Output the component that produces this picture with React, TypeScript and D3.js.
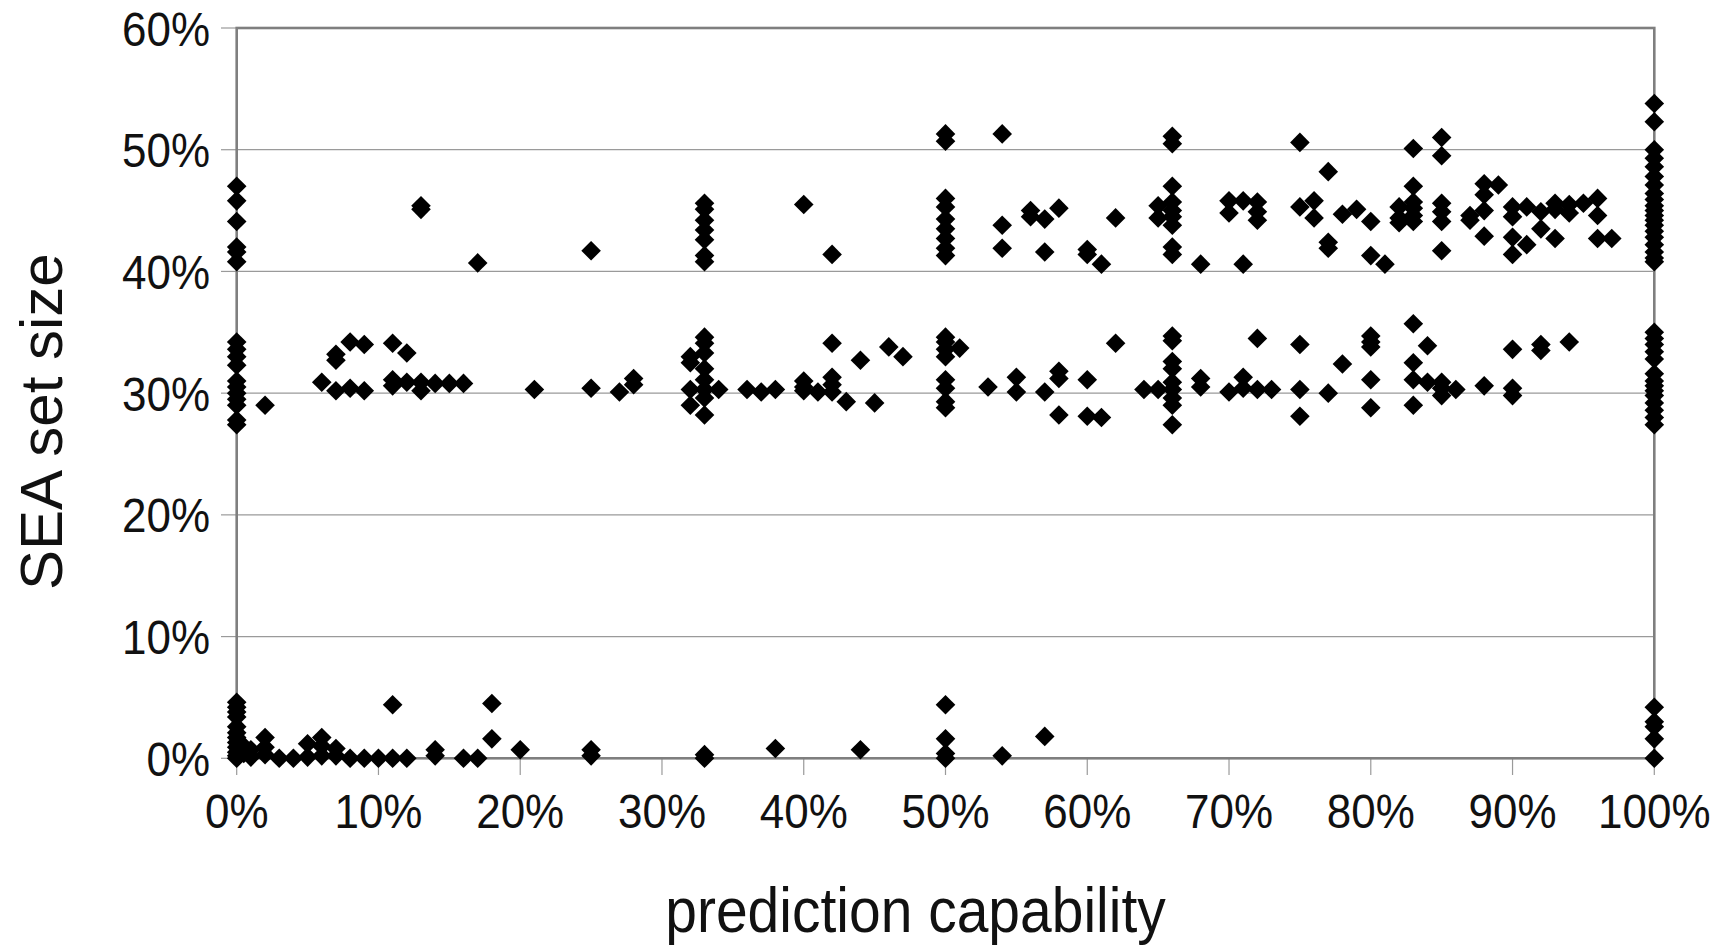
import React from "react";
import * as d3 from "d3";

// ---- Data (prediction capability %, SEA set size %) ----
const upperBand: [number, number][] = [
  [0, 47.0], [0, 45.8], [0, 44.1], [0, 42.0], [0, 41.6], [0, 40.8],
  [13, 45.4], [13, 45.1], [17, 40.7], [25, 41.7],
  [33, 45.6], [33, 45.1], [33, 44.2], [33, 43.4], [33, 42.6], [33, 41.3], [33, 40.8],
  [40, 45.5], [42, 41.4],
  [50, 51.3], [50, 50.7], [50, 46.0], [50, 45.3], [50, 44.3], [50, 43.5], [50, 42.7], [50, 41.9], [50, 41.3],
  [54, 51.3], [54, 43.8], [54, 41.9], [56, 45.0], [56, 44.5], [57, 44.3], [57, 41.6], [58, 45.2],
  [60, 41.8], [60, 41.4], [61, 40.6], [62, 44.4], [65, 45.4], [65, 44.4],
  [66, 51.1], [66, 50.5], [66, 47.0], [66, 45.7], [66, 45.0], [66, 44.5], [66, 43.8], [66, 42.0], [66, 41.4],
  [68, 40.6], [70, 45.8], [70, 44.8], [71, 45.8], [71, 40.6], [72, 45.7], [72, 44.9], [72, 44.2],
  [75, 50.6], [75, 45.3], [76, 45.8], [76, 44.4], [77, 48.2], [77, 42.4], [77, 41.9], [78, 44.7], [79, 45.1],
  [80, 44.1], [80, 41.3], [81, 40.6],
  [82, 45.3], [82, 44.4], [82, 44.0], [83, 50.1], [83, 47.0], [83, 45.7], [83, 45.2], [83, 44.6], [83, 44.1],
  [85, 51.0], [85, 49.5], [85, 45.6], [85, 44.9], [85, 44.1], [85, 41.7], [87, 44.6], [87, 44.2],
  [88, 47.2], [88, 46.3], [88, 45.0], [88, 42.9], [89, 47.1],
  [90, 45.3], [90, 44.5], [90, 42.8], [90, 41.4], [91, 45.3], [91, 42.2], [92, 44.9], [92, 43.5],
  [93, 45.6], [93, 45.1], [93, 42.7], [94, 45.5], [94, 44.8], [95, 45.6], [96, 46.0], [96, 44.6], [96, 42.7], [97, 42.7],
  [100, 53.8], [100, 52.3], [100, 50.0], [100, 49.3], [100, 48.6], [100, 47.8], [100, 47.1], [100, 46.4], [100, 45.9],
  [100, 45.4], [100, 45.0], [100, 44.6], [100, 44.2], [100, 43.8], [100, 43.3], [100, 42.8], [100, 42.2], [100, 41.6],
  [100, 41.1], [100, 40.8],
];

const middleBand: [number, number][] = [
  [0, 34.2], [0, 33.6], [0, 33.0], [0, 32.3], [0, 31.0], [0, 30.5], [0, 30.0], [0, 29.5], [0, 29.0], [0, 27.8], [0, 27.4],
  [2, 29.0], [6, 30.9], [7, 33.2], [7, 32.7], [7, 30.2], [8, 34.2], [8, 30.4], [9, 34.0], [9, 30.2],
  [11, 34.1], [11, 31.1], [11, 30.6], [12, 33.3], [12, 30.9], [13, 30.9], [13, 30.2], [14, 30.8], [15, 30.8], [16, 30.8],
  [21, 30.3], [25, 30.4], [27, 30.1], [28, 31.2], [28, 30.7],
  [32, 33.0], [32, 32.5], [32, 30.3], [32, 29.0],
  [33, 34.6], [33, 34.1], [33, 33.3], [33, 32.0], [33, 31.1], [33, 30.3], [33, 29.6], [33, 28.2],
  [34, 30.3], [36, 30.3], [37, 30.1], [38, 30.3], [40, 31.0], [40, 30.5], [40, 30.2], [41, 30.1],
  [42, 34.1], [42, 31.3], [42, 30.7], [42, 30.1], [43, 29.3], [44, 32.7], [45, 29.2], [46, 33.8], [47, 33.0],
  [50, 34.6], [50, 34.2], [50, 33.6], [50, 33.0], [50, 31.1], [50, 30.4], [50, 29.3], [50, 28.8],
  [51, 33.7], [53, 30.5], [55, 31.3], [55, 30.1], [57, 30.1], [58, 31.8], [58, 31.2], [58, 28.2],
  [60, 31.1], [60, 28.1], [61, 28.0], [62, 34.1], [64, 30.3], [65, 30.3],
  [66, 34.7], [66, 34.3], [66, 32.6], [66, 32.0], [66, 30.9], [66, 30.3], [66, 29.6], [66, 29.0], [66, 27.4],
  [68, 31.2], [68, 30.5], [70, 30.1], [71, 31.3], [71, 30.4], [72, 34.5], [72, 30.3], [73, 30.3],
  [75, 34.0], [75, 30.3], [75, 28.1], [77, 30.0], [78, 32.4],
  [80, 34.7], [80, 34.2], [80, 33.8], [80, 31.1], [80, 28.8],
  [83, 35.7], [83, 32.5], [83, 31.1], [83, 29.0], [84, 33.9], [84, 30.9], [85, 30.9], [85, 30.4], [85, 29.8],
  [86, 30.3], [88, 30.6], [90, 33.6], [90, 30.4], [90, 29.8], [92, 34.0], [92, 33.5], [94, 34.2],
  [100, 35.0], [100, 34.5], [100, 34.0], [100, 33.4], [100, 32.8], [100, 31.6], [100, 31.0], [100, 30.6],
  [100, 30.2], [100, 29.8], [100, 29.2], [100, 28.6], [100, 28.0], [100, 27.4],
];

const lowerBand: [number, number][] = [
  [0, 4.6], [0, 4.2], [0, 3.8], [0, 3.4], [0, 2.6], [0, 2.1], [0, 1.7], [0, 1.3], [0, 0.9], [0, 0.5], [0, 0.2], [0, 0],
  [0.5, 1.0], [0.5, 0.4], [1, 0.7], [1, 0.1], [2, 1.7], [2, 0.9], [2, 0.3], [3, 0], [4, 0],
  [5, 1.2], [5, 0.1], [6, 1.7], [6, 1.0], [6, 0.2], [7, 0.8], [7, 0.2], [8, 0], [9, 0], [10, 0],
  [11, 4.4], [11, 0], [12, 0], [14, 0.7], [14, 0.2], [16, 0], [17, 0], [18, 4.5], [18, 1.6], [20, 0.7],
  [25, 0.7], [25, 0.2], [33, 0.3], [33, 0], [38, 0.8], [44, 0.7],
  [50, 4.4], [50, 1.6], [50, 0.4], [50, 0], [54, 0.2], [57, 1.8],
  [100, 4.2], [100, 3.0], [100, 2.6], [100, 1.6], [100, 0],
];

const xTicks = [0, 10, 20, 30, 40, 50, 60, 70, 80, 90, 100];
const yTicks = [0, 10, 20, 30, 40, 50, 60];
const xTitle = "prediction capability";
const yTitle = "SEA set size";

const W = 1729;
const H = 946;
const FONT = "'Liberation Sans', Arial, Helvetica, sans-serif";

export default function App() {
  const x = d3.scaleLinear().domain([0, 100]).range([236.7, 1654.3]);
  const y = d3.scaleLinear().domain([0, 60]).range([758.3, 28]);
  const r = 9.8;
  const diamond = (px: number, py: number) =>
    `M${px},${py - r}L${px + r},${py}L${px},${py + r}L${px - r},${py}Z`;
  const all = [...upperBand, ...middleBand, ...lowerBand];
  const [x0, x1] = x.range();
  const [y0, y1] = y.range();

  return (
    <svg
      width={W}
      height={H}
      viewBox={`0 0 ${W} ${H}`}
      style={{ position: "absolute", left: 0, top: 0, background: "#fff" }}
    >
      <rect x={0} y={0} width={W} height={H} fill="#fff" />
      {/* gridlines */}
      {yTicks
        .filter((t) => t > 0 && t < 60)
        .map((t) => (
          <line key={"g" + t} x1={x0} x2={x1} y1={y(t)} y2={y(t)} stroke="#9a9a9a" strokeWidth={1.2} />
        ))}
      {/* y tick marks */}
      {yTicks.map((t) => (
        <line key={"yt" + t} x1={221} x2={x0} y1={y(t)} y2={y(t)} stroke="#9a9a9a" strokeWidth={1.2} />
      ))}
      {/* x tick marks */}
      {xTicks.map((t) => (
        <line key={"xt" + t} x1={x(t)} x2={x(t)} y1={y0} y2={775} stroke="#9a9a9a" strokeWidth={1.2} />
      ))}
      {/* frame */}
      <rect x={x0} y={y1} width={x1 - x0} height={y0 - y1} fill="none" stroke="#7f7f7f" strokeWidth={2.6} />
      {/* points */}
      {all.map((d, i) => (
        <path key={i} d={diamond(x(d[0]), y(d[1]))} fill="#000" />
      ))}
      {/* y tick labels */}
      {yTicks.map((t) => (
        <text
          key={"yl" + t}
          transform={`translate(210,${y(t) + 17.5}) scale(1,1.11)`}
          textAnchor="end"
          fontFamily={FONT}
          fontSize={44}
          fill="#111"
        >
          {t}%
        </text>
      ))}
      {/* x tick labels */}
      {xTicks.map((t) => (
        <text
          key={"xl" + t}
          transform={`translate(${x(t)},828) scale(1,1.11)`}
          textAnchor="middle"
          fontFamily={FONT}
          fontSize={44}
          fill="#111"
        >
          {t}%
        </text>
      ))}
      {/* axis titles */}
      <text
        transform={`translate(915.5,932) scale(1,1.1)`}
        textAnchor="middle"
        fontFamily={FONT}
        fontSize={57}
        fill="#111"
      >
        {xTitle}
      </text>
      <text
        transform={`translate(62,421.7) rotate(-90)`}
        textAnchor="middle"
        fontFamily={FONT}
        fontSize={60}
        fill="#111"
      >
        {yTitle}
      </text>
    </svg>
  );
}
